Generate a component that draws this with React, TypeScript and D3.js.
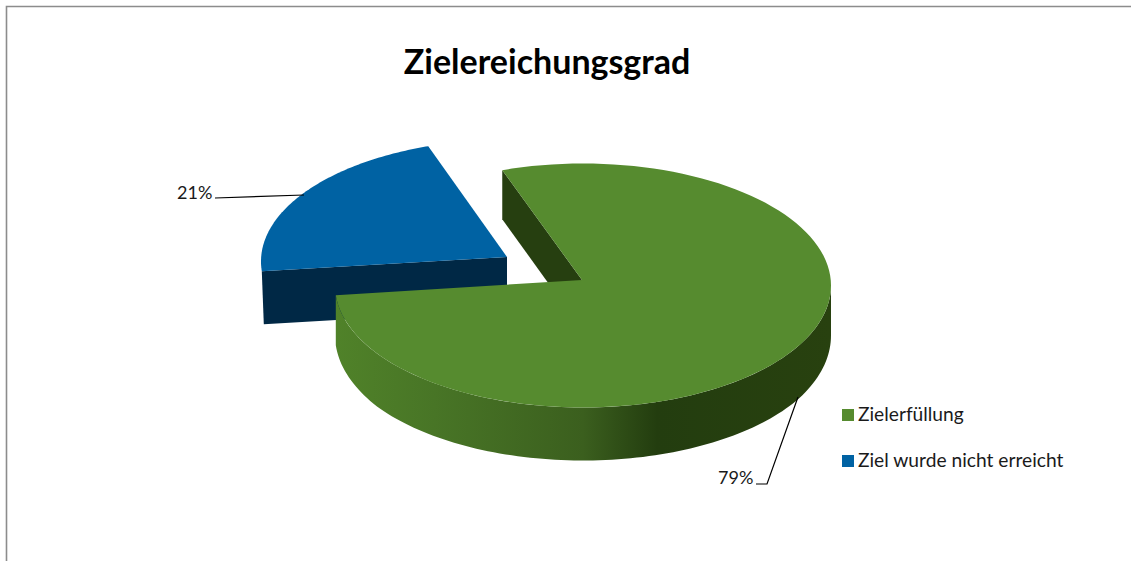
import React from "react";
import * as d3 from "d3";

const categories = ["Zielerfüllung", "Ziel wurde nicht erreicht"];
const values = [79, 21];
const percentLabels = ["79%", "21%"];
const chartTitle = "Zielereichungsgrad";
const colors = ["#568B2F", "#0062A3"];
const wallColors = ["#263F10", "#002845"];

const R = 248;
const r = 122;
const depth = 53;
const deg = Math.PI / 180;

const pie = d3
  .pie<number>()
  .sort(null)
  .startAngle(-19 * deg)
  .endAngle(341 * deg);

const arcs = pie(values);

function onEllipse(cx: number, cy: number, theta: number): [number, number] {
  return [cx + R * Math.sin(theta), cy - r * Math.cos(theta)];
}
const line = d3.line<[number, number]>();

function sweep(cx: number, cy: number, a0: number, a1: number, dy = 0): [number, number][] {
  return d3.range(0, 121).map((i) => {
    const p = onEllipse(cx, cy, a0 + ((a1 - a0) * i) / 120);
    return [p[0], p[1] + dy] as [number, number];
  });
}

export default function App() {
  const green = arcs[0];
  const blue = arcs[1];
  const gc = { x: 583, y: 285.5 };
  const gApex: [number, number] = [582, 280];
  const bc = { x: 509, y: 261.5 };
  const bApex: [number, number] = [507, 257];

  const greenTop = [gApex, ...sweep(gc.x, gc.y, green.startAngle, green.endAngle)];
  const blueTop = [bApex, ...sweep(bc.x, bc.y, blue.startAngle, blue.endAngle)];

  const sideUpper = sweep(gc.x, gc.y, 90 * deg, green.endAngle);
  const sideLower = sweep(gc.x, gc.y, 90 * deg, green.endAngle, depth - 3).map(
    (p, i) => [p[0], p[1] + 3 * Math.min(1, Math.sin((i / 120) * Math.PI) * 2)] as [number, number]
  );
  const side = [...sideUpper, ...sideLower.reverse()];

  const gStart = onEllipse(gc.x, gc.y, green.startAngle);
  const wall: [number, number][] = [
    gStart,
    gApex,
    [gApex[0], gApex[1] + 50],
    [gStart[0], gStart[1] + 49],
  ];

  const bLeft = onEllipse(bc.x, bc.y, blue.startAngle);
  const blueWall: [number, number][] = [
    bApex,
    bLeft,
    [bLeft[0] + 2, bLeft[1] + 53],
    [bApex[0], bApex[1] + 53],
  ];

  const legendY = [409, 455];
  const font = "Lato, 'Open Sans', sans-serif";

  return (
    <svg
      width={1131}
      height={561}
      style={{ position: "absolute", left: 0, top: 0, background: "#fff" }}
    >
      <defs>
        <linearGradient id="side" gradientUnits="userSpaceOnUse" x1={335} x2={831} y1={0} y2={0}>
          <stop offset="0" stopColor="#508229" />
          <stop offset="0.2" stopColor="#487526" />
          <stop offset="0.5" stopColor="#3B5F1E" />
          <stop offset="0.65" stopColor="#233D0F" />
          <stop offset="1" stopColor="#28410F" />
        </linearGradient>
      </defs>
      <path d="M6.5,561V6.5H1131" fill="none" stroke="#8C8C8C" strokeWidth={1.6} />
      <text x={547} y={74} textAnchor="middle" fontFamily={font} fontWeight={700} fontSize={34} fill="#000">
        {chartTitle}
      </text>

      <path d={line(blueWall)!} fill={wallColors[1]} />
      <path d={line(blueTop)! + "Z"} fill={colors[1]} />
      <path d={line(wall)! + "Z"} fill={wallColors[0]} />
      <path d={line(side)! + "Z"} fill="url(#side)" />
      <path d={line(greenTop)! + "Z"} fill={colors[0]} />

      <path d="M215,198L304,195" fill="none" stroke="#000" strokeWidth={1.2} />
      <path d="M756,484L767,484L798,397" fill="none" stroke="#000" strokeWidth={1.2} />
      <text x={177} y={199} fontFamily={font} fontSize={18} fill="#1a1a1a">{percentLabels[1]}</text>
      <text x={718} y={484} fontFamily={font} fontSize={18} fill="#1a1a1a">{percentLabels[0]}</text>

      {categories.map((c, i) => (
        <g key={c}>
          <rect x={842} y={legendY[i]} width={12} height={12} fill={colors[i]} />
          <text x={858} y={legendY[i] + 12} fontFamily={font} fontSize={19.2} fill="#1a1a1a">{c}</text>
        </g>
      ))}
    </svg>
  );
}
